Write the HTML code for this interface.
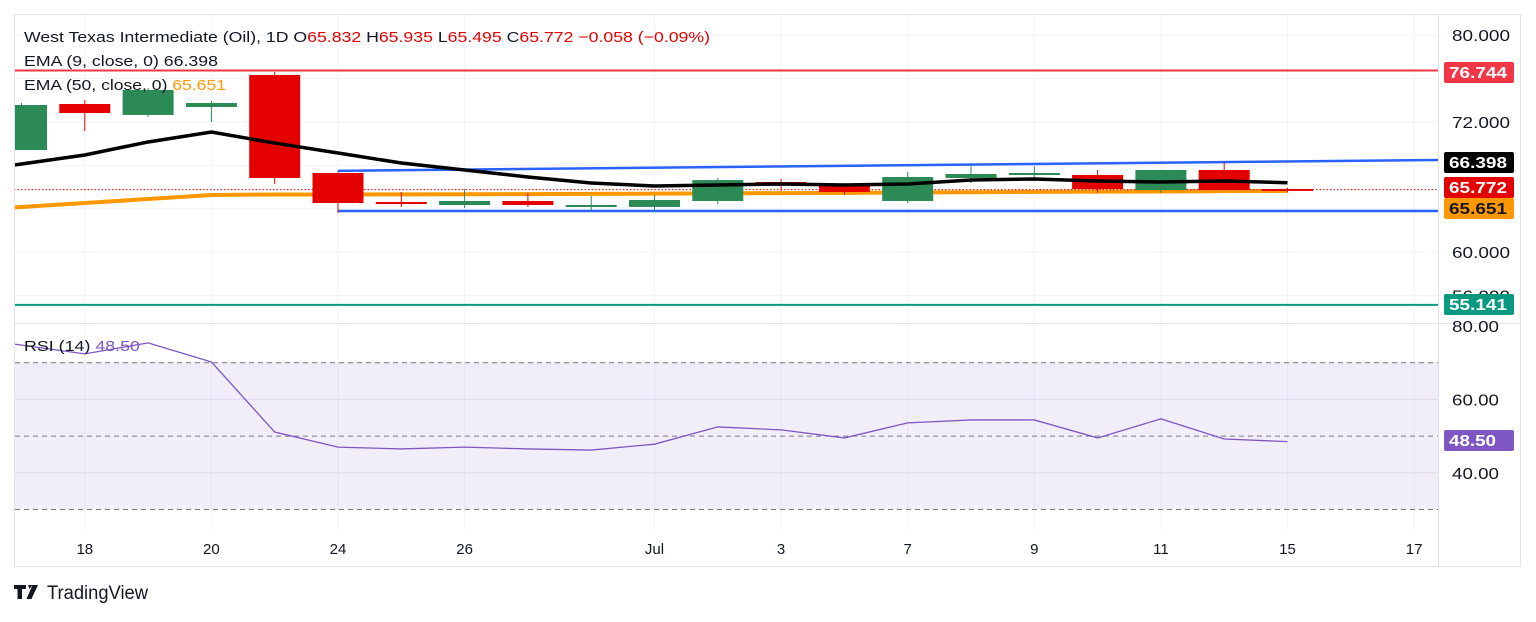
<!DOCTYPE html>
<html><head><meta charset="utf-8">
<style>
html,body{margin:0;padding:0;background:#fff;}
body{width:1536px;height:617px;overflow:hidden;font-family:"Liberation Sans",sans-serif;}
svg text{font-family:"Liberation Sans",sans-serif;}
</style></head>
<body>
<svg id="chart" width="1536" height="617" xmlns="http://www.w3.org/2000/svg">
  <defs><clipPath id="plotclip"><rect x="15" y="15" width="1423" height="551"/></clipPath></defs>
  <rect x="14.5" y="14.5" width="1506" height="552" fill="#fff" stroke="#e0e3eb"/>
  <g id="grid"></g>
  <rect x="15" y="362" width="1423" height="147" fill="#7e57c2" fill-opacity="0.1"/>
  <g id="marks" clip-path="url(#plotclip)"></g>
  <line x1="14" y1="323.5" x2="1520" y2="323.5" stroke="#e0e3eb"/>
  <line x1="1438.5" y1="14" x2="1438.5" y2="566" stroke="#e0e3eb"/>
  <g id="axes"></g>
  <g font-size="15">
    <text x="24" y="42" fill="#131722" textLength="686" lengthAdjust="spacingAndGlyphs">West Texas Intermediate (Oil), 1D  O<tspan fill="#e50000">65.832</tspan>  H<tspan fill="#e50000">65.935</tspan>  L<tspan fill="#e50000">65.495</tspan>  C<tspan fill="#e50000">65.772  −0.058  (−0.09%)</tspan></text>
    <text x="24" y="66" fill="#131722" textLength="194" lengthAdjust="spacingAndGlyphs">EMA (9, close, 0)  66.398</text>
    <text x="24" y="90" fill="#131722" textLength="202" lengthAdjust="spacingAndGlyphs">EMA (50, close, 0)  <tspan fill="#ff9800">65.651</tspan></text>
    <text x="24" y="351" fill="#131722" textLength="116" lengthAdjust="spacingAndGlyphs">RSI (14)   <tspan fill="#7e57c2">48.50</tspan></text>
  </g>
  <g>
    <path d="M14 585h12v4h-4v10h-4.5v-10H14z M28 585h4.5l-3 4z M32.5 585h5.5l-6.5 14h-5z" fill="#131722"/>
    <text x="47" y="599" font-size="19" fill="#131722" textLength="101" lengthAdjust="spacingAndGlyphs">TradingView</text>
  </g>
</svg>
<script>
// ---- data ----
const dateLabels = ["18","20","24","26","Jul","3","7","9","11","15","17"];
const dateLabelIdx = [1,3,5,7,10,12,14,16,18,20,22];
const opens  = [69.42,73.66,72.65,73.38,76.33,67.30,64.63,64.35,64.72,64.26,64.17,64.72,66.47,66.10,64.72,66.84,67.12,67.12,65.73,67.58,65.83];
const highs  = [73.75,74.03,75.13,73.94,76.61,67.39,65.55,65.82,65.46,65.18,65.27,66.84,66.75,66.38,67.39,67.94,67.94,67.58,67.58,68.31,65.94];
const lows   = [69.42,71.17,72.46,72.00,66.29,63.61,64.17,64.07,64.17,63.80,63.71,64.44,65.64,65.27,64.53,66.38,66.65,65.46,65.46,65.73,65.50];
const closes = [73.57,72.83,74.95,73.75,66.84,64.53,64.44,64.72,64.35,64.35,64.81,66.65,66.19,65.55,66.93,67.21,67.30,65.82,67.58,65.73,65.77];
const ema9   = [68.13,68.96,70.16,71.08,70.06,69.14,68.22,67.58,66.93,66.38,66.10,66.19,66.29,66.19,66.29,66.65,66.75,66.56,66.47,66.56,66.40];
const ema50  = [64.17,64.53,64.90,65.27,65.32,65.32,65.33,65.34,65.35,65.37,65.40,65.42,65.45,65.47,65.50,65.53,65.56,65.58,65.60,65.63,65.65];
const rsi    = [74.8,72.4,75.4,70.2,51.1,47.0,46.5,47.0,46.5,46.2,47.8,52.5,51.7,49.5,53.6,54.4,54.4,49.5,54.7,49.2,48.5];
const priceTicks = [80,72,60,56];
const rsiTicks = [80,60,40];
const hLevels = [76.744,55.141];
const channelUpper = [67.5,68.5];
const channelLower = [63.8,63.8];

// ---- scales ----
const xs = i => 21.5 + i*63.3;
const yP = v => 122 + (72 - v)*10.85;
const yR = v => 326 + (80 - v)*3.67;
const NS = "http://www.w3.org/2000/svg";
function mk(tag, attrs, parent){const e=document.createElementNS(NS,tag);for(const k in attrs)e.setAttribute(k,attrs[k]);parent.appendChild(e);return e;}
const grid=document.getElementById('grid'), marks=document.getElementById('marks'), axes=document.getElementById('axes');

dateLabelIdx.forEach((idx,k)=>{
  const x=xs(idx);
  const l=mk('line',{x1:x,y1:15,x2:x,y2:530,stroke:'#f0f3fa'},grid);
  
  
  const t=mk('text',{x:x,y:554,'font-size':15,'text-anchor':'middle',fill:'#131722'},axes);
  t.textContent=dateLabels[k];
  
  
});
[80,76,72,68,64,60,56].forEach(v=>{
  const l=mk('line',{x1:15,y1:yP(v),x2:1438,y2:yP(v),stroke:'#f0f3fa'},grid);
  
  
});
[60,40].forEach(v=>{
  const l=mk('line',{x1:15,y1:yR(v),x2:1438,y2:yR(v),stroke:'#ebe7f3'},grid);
  
  
});
[70,50,30].forEach(v=>{
  const l=mk('line',{x1:15,y1:yR(v),x2:1438,y2:yR(v),stroke:'#787b86','stroke-dasharray':'5,4'},grid);
  
  
});

priceTicks.forEach(v=>{
  const t=mk('text',{x:1452,y:yP(v)+6,'font-size':16,fill:'#131722',textLength:58,lengthAdjust:'spacingAndGlyphs'},axes);
  t.textContent=v.toFixed(3);
  
  
});
rsiTicks.forEach(v=>{
  const t=mk('text',{x:1452,y:yR(v)+6,'font-size':16,fill:'#131722',textLength:47,lengthAdjust:'spacingAndGlyphs'},axes);
  t.textContent=v.toFixed(2);
  
  
});

const lvlColors=['#f23645','#089981'];
hLevels.forEach((v,k)=>{
  const l=mk('line',{x1:14,y1:yP(v),x2:1440,y2:yP(v),stroke:lvlColors[k],'stroke-width':2},marks);
  
  
});
[channelUpper,channelLower].forEach(c=>{
  const l=mk('line',{x1:338,y1:yP(c[0]),x2:1440,y2:yP(c[1]),stroke:'#2962ff','stroke-width':2.5},marks);
  
  
});
const cl=mk('line',{x1:338,y1:yP(channelUpper[0]),x2:338,y2:yP(channelLower[0]),stroke:'#2962ff','stroke-width':1},marks);



function pts(arr, yf){const p=arr.map((v,i)=>xs(i)+','+yf(v));p.unshift('10,'+yf(arr[0]-(arr[1]-arr[0])*0.18));return p.join(' ');}

const ema50Line=mk('polyline',{points:pts(ema50,yP),fill:'none',stroke:'#ff9800','stroke-width':4},marks);



const cd=mk('line',{x1:14,y1:yP(closes[closes.length-1]),x2:1438,y2:yP(closes[closes.length-1]),stroke:'#e50000','stroke-dasharray':'1.5,2'},marks);



opens.forEach((o,i)=>{
  const c=closes[i], up=c>=o, col=up?'#2b8a56':'#e50000', x=xs(i);
  const w=mk('line',{x1:x,y1:yP(highs[i]),x2:x,y2:yP(lows[i]),stroke:col,'stroke-width':1},marks);
  
  
  const top=yP(Math.max(o,c)), bot=yP(Math.min(o,c));
  const r=mk('rect',{x:x-25.5,y:top,width:51,height:Math.max(2,bot-top),fill:col},marks);
  
  
});

const ema9Line=mk('polyline',{points:pts(ema9,yP),fill:'none',stroke:'#000','stroke-width':3.5},marks);



const rl=mk('polyline',{points:pts(rsi,yR),fill:'none',stroke:'#7e57c2','stroke-width':1.3},marks);



const badges=[
  ['76.744',62,'#f23645','#fff','badge-resistance'],
  ['66.398',152,'#000','#fff','badge-ema9'],
  ['65.772',177,'#e50000','#fff','badge-last-price'],
  ['65.651',198,'#ff9800','#131722','badge-ema50'],
  ['55.141',294,'#089981','#fff','badge-support'],
  ['48.50',430,'#7e57c2','#fff','badge-rsi']
];
badges.forEach(b=>{
  const g=mk('g',{},axes);
  
  
  mk('rect',{x:1444,y:b[1],width:70,height:21,rx:2,fill:b[2]},g);
  const t=mk('text',{x:1449,y:b[1]+16,'font-size':16,'font-weight':'bold',fill:b[3],textLength:b[0].length>5?58:47,lengthAdjust:'spacingAndGlyphs'},g);
  t.textContent=b[0];
});
</script>
</body></html>
